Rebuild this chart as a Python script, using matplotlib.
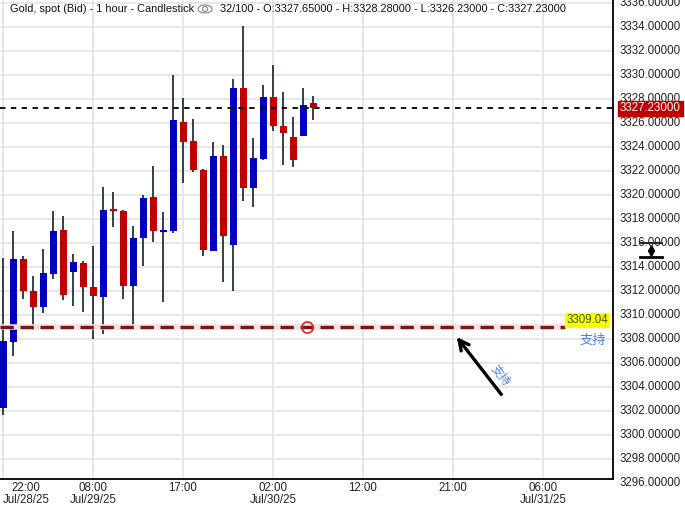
import matplotlib
matplotlib.use("Agg")
import matplotlib.pyplot as plt
import numpy as np

# --- données OHLC (bougies horaires) ---
opens = [3302.27, 3307.78, 3314.67, 3312.00, 3310.69, 3313.44, 3317.08, 3313.61,
         3314.33, 3312.33, 3311.50, 3318.78, 3318.67, 3312.42, 3316.42, 3319.83,
         3317.00, 3317.03, 3326.08, 3324.50, 3322.08, 3315.36, 3323.25, 3315.83,
         3328.92, 3320.61, 3323.03, 3328.17, 3325.75, 3324.83, 3324.94, 3327.65]
highs = [3314.72, 3317.00, 3314.92, 3313.25, 3315.50, 3318.67, 3318.25, 3315.08,
         3314.53, 3315.75, 3320.67, 3320.25, 3318.75, 3317.42, 3320.00, 3322.42,
         3318.58, 3330.00, 3328.08, 3326.33, 3322.17, 3324.42, 3324.17, 3329.67,
         3334.08, 3324.75, 3329.17, 3330.83, 3328.58, 3326.50, 3328.92, 3328.28]
lows = [3301.67, 3306.61, 3311.33, 3308.75, 3310.19, 3313.03, 3311.25, 3310.75,
        3310.25, 3308.00, 3308.42, 3317.36, 3311.36, 3309.04, 3314.08, 3316.11,
        3311.11, 3316.86, 3321.03, 3321.94, 3314.94, 3315.30, 3312.78, 3312.03,
        3319.53, 3319.03, 3322.92, 3325.36, 3322.53, 3322.36, 3324.90, 3326.23]
closes = [3307.83, 3314.67, 3312.03, 3310.69, 3313.50, 3317.00, 3311.67, 3314.42,
          3312.36, 3311.58, 3318.75, 3318.70, 3312.42, 3316.42, 3319.75, 3317.00,
          3317.05, 3326.25, 3324.42, 3322.08, 3315.42, 3323.25, 3316.61, 3328.92,
          3320.61, 3323.08, 3328.17, 3325.75, 3325.19, 3322.94, 3327.50, 3327.23]

tick_pos = [0, 9, 18, 27, 36, 45, 54]
tick_labels = ["22:00\nJul/28/25", "08:00\nJul/29/25", "17:00", "02:00\nJul/30/25",
               "12:00", "21:00", "06:00\nJul/31/25"]
y_levels = list(range(3296, 3338, 2))

support = 3309.04
last_price = 3327.23
header_left = "Gold, spot (Bid) - 1 hour - Candlestick"
header_right = "32/100 - O:3327.65000 - H:3328.28000 - L:3326.23000 - C:3327.23000"

W, H = 685, 505
BLUE = "#0000c0"
RED = "#c00000"
WICK = "#263238"
font = ["Liberation Sans", "DejaVu Sans"]
narrow = ["Liberation Sans Narrow", "Liberation Sans", "DejaVu Sans"]
cjk = ["Noto Sans CJK SC", "DejaVu Sans"]


def px(x, y):
    # pixels -> fraction de la figure
    return x / W, 1 - y / H


fig = plt.figure(figsize=(W / 100, H / 100), dpi=100)
ax = fig.add_axes([0, 26 / H, 613 / W, 479 / H])

y_bottom = 3336 - 476 / 12
y_top = 3336 + 3 / 12
ax.set_ylim(y_bottom, y_top)
ax.set_xlim(-0.3, 61)

# --- grille ---
for v in y_levels:
    ax.axhline(v, color="#e3e3e3", lw=1.2, zorder=0)
for t in tick_pos:
    ax.axvline(t, color="#e3e3e3", lw=1.2, zorder=0)

# --- bougies ---
for i, (o, h, l, c) in enumerate(zip(opens, highs, lows, closes)):
    col = BLUE if c >= o else RED
    ax.vlines(i, l, h, color=WICK, lw=1.3, zorder=2)
    lo, hi = min(o, c), max(o, c)
    if hi - lo < 0.12:
        ax.hlines((o + c) / 2, i - 0.35, i + 0.35, color=col, lw=1.6, zorder=3)
    else:
        ax.bar(i, hi - lo, bottom=lo, width=0.7, color=col, edgecolor=col,
               lw=0, zorder=3)

# --- ligne du dernier prix ---
ax.axhline(last_price, color="black", lw=1.3, ls=(0, (3, 3)), zorder=4)

# --- ligne de support ---
ax.plot([-0.3, 56.2], [support, support], color="#f0e0e0", lw=4.0,
        solid_capstyle="butt", zorder=4)
ax.plot([-0.3, 56.2], [support, support], color="#7a1616", lw=2.4,
        ls=(0, (4, 2)), zorder=5)
ax.plot([30.4], [support], marker="o", ms=8, mfc="none", mec="#e02020",
        mew=1.2, zorder=6)

# flèche + texte
ax.annotate("", xy=(45.2, 3308.35), xytext=(50.0, 3303.2),
            arrowprops=dict(arrowstyle="->", color="black", lw=2.4,
                            mutation_scale=18), zorder=6)
ax.text(49.8, 3305.0, "支持", rotation=-52, color="#4d7ef2", fontsize=8.5,
        family=cjk, ha="center", va="center", rotation_mode="anchor")

# --- axes ---
for s in ["left", "top"]:
    ax.spines[s].set_visible(False)
ax.spines["right"].set_linewidth(1.3)
ax.spines["bottom"].set_linewidth(1.3)
ax.set_xticks([])
ax.set_yticks([])

# étiquettes axe Y (à la main pour inclure 3296 sous l'axe)
for v in y_levels:
    ypix = 3 + (3336 - v) * 12
    fx, fy = px(620, ypix)
    fig.text(fx, fy, f"{v:.5f}", fontsize=8.3, family=font, color="#222222",
             ha="left", va="center")

# étiquette du dernier prix
fx, fy = px(620, 3 + (3336 - last_price) * 12)
fig.text(fx, fy, f"{last_price:.5f}", fontsize=8.3, family=font, color="white",
         ha="left", va="center",
         bbox=dict(boxstyle="square,pad=0.15", fc=RED, ec=RED))

# icône de glisser (3316)
x0, y0 = px(640, 243)
x1, _ = px(662, 243)
fig.add_artist(plt.Line2D([x0, x1], [y0, y0], color="black", lw=1.2))
_, ya = px(0, 248)
_, yb = px(0, 253)
_, yc = px(0, 257)
xm, _ = px(651, 0)
fig.add_artist(plt.Line2D([xm], [ya], marker="^", ms=4.5, color="black", lw=0))
fig.add_artist(plt.Line2D([xm], [yb], marker="v", ms=4.5, color="black", lw=0))
fig.add_artist(plt.Line2D([x0, x1], [yc, yc], color="black", lw=2))

# étiquette support
fx, fy = px(587, 320)
fig.text(fx, fy, f"{support:.2f}", fontsize=8.3, family=font, color="#3d5a00",
         ha="center", va="center",
         bbox=dict(boxstyle="square,pad=0.12", fc="#ffff00", ec="#ffff00"))
fx, fy = px(593, 340)
fig.text(fx, fy, "支持", fontsize=9.5, family=cjk, color="#4d7ef2",
         ha="center", va="center")

# étiquettes axe X
label_x = {0: 26}
for t, lab in zip(tick_pos, tick_labels):
    xpix = label_x.get(t, 3 + 10 * t)
    fx, fy = px(xpix, 482)
    fig.text(fx, fy, lab, fontsize=8.3, family=narrow, color="#222222",
             ha="center", va="top", linespacing=0.95)

# --- en-tête ---
fx, fy = px(10, 9)
fig.text(fx, fy, header_left, fontsize=7.9, family=font, color="#111111",
         ha="left", va="center")
fx, fy = px(205, 9)
fig.add_artist(matplotlib.patches.Ellipse((fx, fy), 14 / W, 8 / H, fc="none",
                                          ec="#909090", lw=0.9))
fig.add_artist(matplotlib.patches.Ellipse((fx, fy), 5 / W, 5 / H, fc="none",
                                          ec="#909090", lw=0.9))
fx, fy = px(220, 9)
fig.text(fx, fy, header_right, fontsize=7.9, family=font, color="#111111",
         ha="left", va="center")

fig.savefig("out.png", dpi=100)
